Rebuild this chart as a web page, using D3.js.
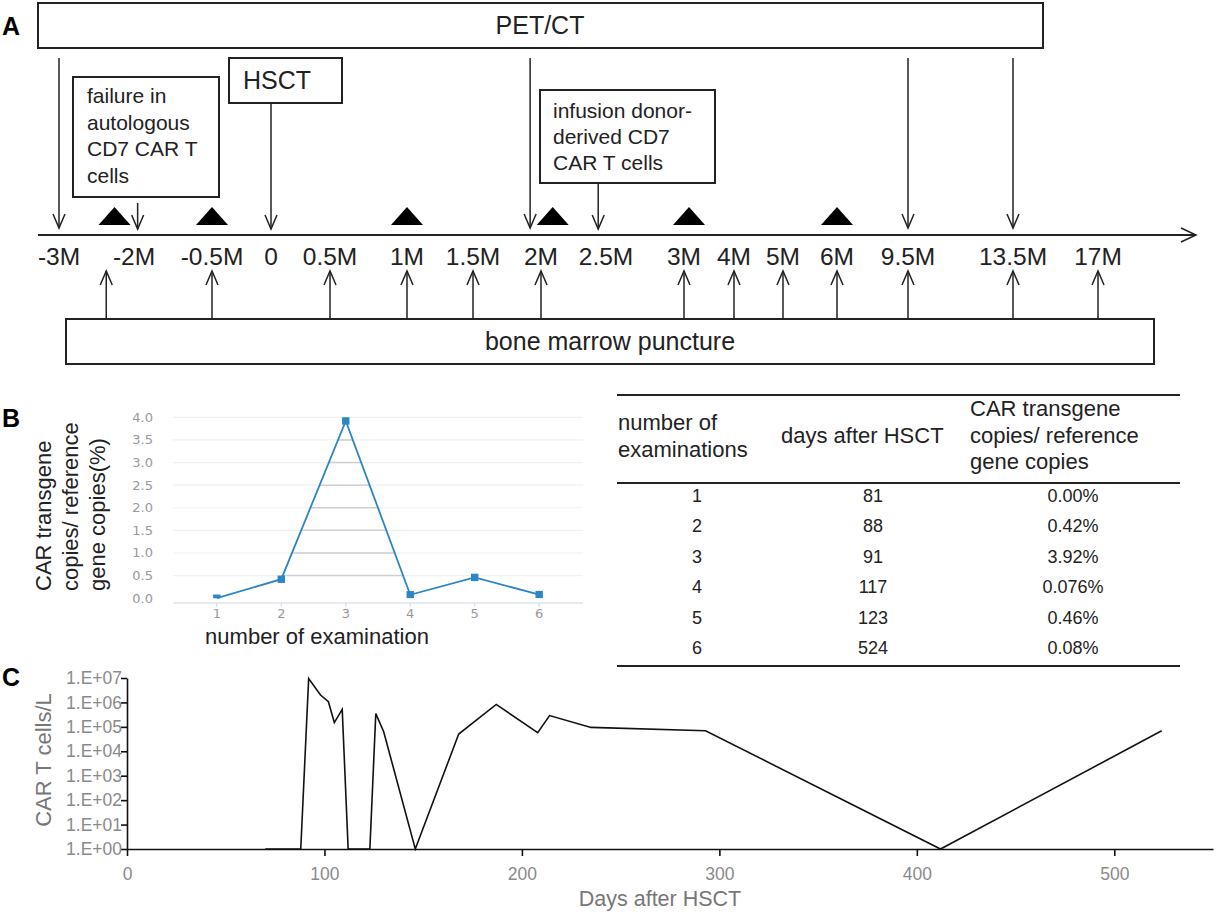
<!DOCTYPE html>
<html>
<head>
<meta charset="utf-8">
<script src="https://cdn.jsdelivr.net/npm/d3@7"></script>
<style>
  body { margin: 0; background: #fff; }
  svg { display: block; }
  text { font-family: "Liberation Sans", Arial, sans-serif; fill: #222; }
</style>
</head>
<body>
<script>
// ---------- data ----------
// panel A: timeline (months relative to HSCT)
let timeLabels = ["-3M", "-2M", "-0.5M", "0", "0.5M", "1M", "1.5M", "2M", "2.5M", "3M", "4M", "5M", "6M", "9.5M", "13.5M", "17M"];
let timeMonths = [-3, -2, -0.5, 0, 0.5, 1, 1.5, 2, 2.5, 3, 4, 5, 6, 9.5, 13.5, 17];
let petctMonths = [-3, 1.92, 9.5, 13.5];
let marrowMonths = [-2.37, -0.5, 0.5, 1, 1.5, 2, 3, 4, 5, 6, 9.5, 13.5, 17];
let triangleMonths = [-2.26, -0.5, 1, 2.09, 3.1, 6];
let failureMonth = -1.93, hsctMonth = 0, infusionMonth = 2.44;

// panel B: CAR copies
let exams = [1, 2, 3, 4, 5, 6];
let examDays = [81, 88, 91, 117, 123, 524];
let copies = [0.00, 0.42, 3.92, 0.076, 0.46, 0.08];
let copyLabels = ["0.00%", "0.42%", "3.92%", "0.076%", "0.46%", "0.08%"];
let copyTicks = [0, 0.5, 1, 1.5, 2, 2.5, 3, 3.5, 4];

// panel C: CAR T cells per litre
let cDays = [70, 88, 92, 98, 102, 105, 109, 112, 123, 126, 130, 146, 168, 187, 208, 214, 235, 293, 412, 524];
let cCells = [1, 1, 9.5e6, 2e6, 1.07e6, 1.5e5, 5.2e5, 1, 1, 3.5e5, 6.3e4, 1, 5.1e4, 8.3e5, 5.8e4, 2.9e5, 9.5e4, 6.9e4, 1, 6.9e4];
let cTicksY = [1, 10, 1e2, 1e3, 1e4, 1e5, 1e6, 1e7];
let cTicksX = [0, 100, 200, 300, 400, 500];

// ---------- setup ----------
let width = 1216, height = 913;
let svg = d3.select("body").append("svg")
  .attr("width", width)
  .attr("height", height);

let ink = "#222";

function panelLetter(t, x, y) {
  svg.append("text").attr("x", x).attr("y", y)
    .style("font-size", "25px").style("font-weight", "bold").style("fill", "#000")
    .text(t);
}
panelLetter("A", 2, 35);
panelLetter("B", 2, 427);
panelLetter("C", 2, 686);

// ---------- panel A ----------
let gA = svg.append("g");
// labels on the timeline are not evenly spaced, so use a piecewise scale
let tickX = [59, 134, 212, 271, 330, 407, 473, 541, 606, 684, 734, 783, 837, 908, 1013, 1098];
let xT = d3.scaleLinear().domain(timeMonths).range(tickX);
let axisY = 235;

function box(g, x0, y0, x1, y1) {
  g.append("rect").attr("x", x0).attr("y", y0)
    .attr("width", x1 - x0).attr("height", y1 - y0)
    .attr("fill", "#fff").attr("stroke", ink).attr("stroke-width", 2);
}
function boxText(g, lines, x, y0, dy, size, anchor) {
  lines.forEach(function(l, i) {
    g.append("text").attr("x", x).attr("y", y0 + i * dy)
      .attr("text-anchor", anchor || "start")
      .style("font-size", size + "px")
      .text(l);
  });
}
function arrow(g, x, yFrom, yTo) {
  let dir = yTo > yFrom ? 1 : -1;
  g.append("line").attr("x1", x).attr("x2", x).attr("y1", yFrom).attr("y2", yTo)
    .attr("stroke", ink).attr("stroke-width", 1.5);
  g.append("path")
    .attr("d", "M" + (x - 6) + "," + (yTo - dir * 14) + "L" + x + "," + yTo + "L" + (x + 6) + "," + (yTo - dir * 14))
    .attr("fill", "none").attr("stroke", ink).attr("stroke-width", 1.5);
}

// PET/CT
box(gA, 38, 3, 1043, 48);
boxText(gA, ["PET/CT"], 540, 34, 0, 25, "middle");
petctMonths.forEach(function(m) { arrow(gA, xT(m), 58, 228); });

// failure box
box(gA, 73, 77, 219, 197);
boxText(gA, ["failure in", "autologous", "CD7 CAR T", "cells"], 87, 103, 26.7, 21);
arrow(gA, xT(failureMonth), 203, 229);

// HSCT
box(gA, 229, 58, 342, 103);
boxText(gA, ["HSCT"], 243, 89, 0, 25);
arrow(gA, xT(hsctMonth), 103, 229);

// infusion
box(gA, 540, 90, 715, 183);
boxText(gA, ["infusion donor-", "derived CD7", "CAR T cells"], 553, 118, 26, 21);
arrow(gA, xT(infusionMonth), 183, 229);

// triangles
gA.selectAll(".tri").data(triangleMonths).enter().append("path")
  .attr("class", "tri")
  .attr("d", function(m) {
    let x = xT(m);
    return "M" + (x - 16) + ",225L" + x + ",207L" + (x + 16) + ",225Z";
  })
  .attr("fill", "#000");

// timeline axis with arrow
gA.append("line").attr("x1", 38).attr("x2", 1196).attr("y1", axisY).attr("y2", axisY)
  .attr("stroke", ink).attr("stroke-width", 2);
gA.append("path").attr("d", "M1181," + (axisY - 7) + "L1196," + axisY + "L1181," + (axisY + 7))
  .attr("fill", "none").attr("stroke", ink).attr("stroke-width", 1.5);

gA.selectAll(".tl").data(timeLabels).enter().append("text")
  .attr("class", "tl")
  .attr("x", function(d, i) { return xT(timeMonths[i]); })
  .attr("y", 265)
  .attr("text-anchor", "middle")
  .style("font-size", "24.5px")
  .text(function(d) { return d; });

// bone marrow puncture
marrowMonths.forEach(function(m) { arrow(gA, xT(m), 319, 271); });
box(gA, 66, 319, 1154, 364);
boxText(gA, ["bone marrow puncture"], 610, 350, 0, 25, "middle");

// ---------- panel B: chart ----------
let gB = svg.append("g");
let xB = d3.scalePoint().domain(exams).range([173, 583]).padding(0.68);
let yB = d3.scaleLinear().domain([0, 4]).range([598.2, 417.3]);
let blue = "#2b86c5";

// light gridlines
gB.selectAll(".grid").data(copyTicks.slice(1)).enter().append("line")
  .attr("x1", 173).attr("x2", 583)
  .attr("y1", function(d) { return yB(d); }).attr("y2", function(d) { return yB(d); })
  .attr("stroke", "#f0f0f0").attr("stroke-width", 1.2);

// darker grid segments below the curve
let area = d3.area()
  .x(function(d, i) { return xB(exams[i]); })
  .y0(yB(0)).y1(function(d) { return yB(d); });
gB.append("clipPath").attr("id", "underCurve")
  .append("path").attr("d", area(copies));
gB.append("g").attr("clip-path", "url(#underCurve)")
  .selectAll("line").data(copyTicks.slice(1)).enter().append("line")
  .attr("x1", 173).attr("x2", 583)
  .attr("y1", function(d) { return yB(d); }).attr("y2", function(d) { return yB(d); })
  .attr("stroke", "#cfcfcf").attr("stroke-width", 1.5);

// x axis line and ticks
gB.append("line").attr("x1", 173).attr("x2", 583).attr("y1", 603).attr("y2", 603)
  .attr("stroke", "#cdd8e6").attr("stroke-width", 1.2);
gB.selectAll(".xtk").data(exams).enter().append("line")
  .attr("x1", function(d) { return xB(d); }).attr("x2", function(d) { return xB(d); })
  .attr("y1", 603).attr("y2", 607)
  .attr("stroke", "#cdd8e6");
gB.selectAll(".xl").data(exams).enter().append("text")
  .attr("x", function(d) { return xB(d); })
  .attr("y", 618)
  .attr("text-anchor", "middle")
  .style("font-family", "DejaVu Sans, sans-serif")
  .style("font-size", "13px").style("fill", "#999")
  .text(function(d) { return d; });

// y labels
gB.selectAll(".yl").data(copyTicks).enter().append("text")
  .attr("x", 153)
  .attr("y", function(d) { return yB(d) + 4.5; })
  .attr("text-anchor", "end")
  .style("font-family", "DejaVu Sans, sans-serif")
  .style("font-size", "13px").style("fill", "#999")
  .text(function(d) { return d3.format(".1f")(d); });

// line and markers
let lineB = d3.line()
  .x(function(d, i) { return xB(exams[i]); })
  .y(function(d) { return yB(d); });
gB.append("path").attr("d", lineB(copies))
  .attr("fill", "none").attr("stroke", blue).attr("stroke-width", 1.8);
gB.append("clipPath").attr("id", "plotB")
  .append("rect").attr("x", 160).attr("y", 400).attr("width", 440).attr("height", yB(0) - 400);
gB.append("g").attr("clip-path", "url(#plotB)")
  .selectAll("rect").data(copies).enter().append("rect")
  .attr("x", function(d, i) { return xB(exams[i]) - 3.7; })
  .attr("y", function(d) { return yB(d) - 3.7; })
  .attr("width", 7.4).attr("height", 7.4)
  .attr("fill", blue);

// titles
let yTitle = ["CAR transgene", "copies/ reference", "gene copies(%)"];
yTitle.forEach(function(t, i) {
  gB.append("text")
    .attr("transform", "translate(" + (51 + i * 27) + ",591) rotate(-90)")
    .style("font-size", "22px")
    .text(t);
});
gB.append("text").attr("x", 317).attr("y", 644).attr("text-anchor", "middle")
  .style("font-size", "22px").text("number of examination");

// ---------- panel B: table ----------
let gT = svg.append("g");
[395, 483, 666].forEach(function(y) {
  gT.append("line").attr("x1", 617).attr("x2", 1180).attr("y1", y).attr("y2", y)
    .attr("stroke", ink).attr("stroke-width", 2);
});
boxText(gT, ["number of", "examinations"], 618, 430, 26.7, 22);
boxText(gT, ["days after HSCT"], 781, 443, 0, 22);
boxText(gT, ["CAR transgene", "copies/ reference", "gene copies"], 970, 416, 26.7, 22);

let colX = [697, 873, 1073];
exams.forEach(function(e, i) {
  let y = 502 + i * 30.4;
  [e, examDays[i], copyLabels[i]].forEach(function(v, j) {
    gT.append("text").attr("x", colX[j]).attr("y", y)
      .attr("text-anchor", "middle")
      .style("font-size", "18px")
      .text(v);
  });
});

// ---------- panel C ----------
let gC = svg.append("g");
let xC = d3.scaleLinear().domain([0, 550]).range([127, 1213]);
let yC = d3.scaleLog().domain([1, 1e7]).range([849, 678]);

let xAxisC = d3.axisBottom(xC).tickValues(cTicksX).tickSize(7).tickSizeOuter(0);
let yAxisC = d3.axisLeft(yC).tickValues(cTicksY).tickSize(6).tickSizeOuter(0)
  .tickFormat(function(d) { return "1.E+" + String(Math.round(Math.log10(d))).padStart(2, "0"); });

let gx = gC.append("g").attr("transform", "translate(0,849)").call(xAxisC);
let gy = gC.append("g").attr("transform", "translate(127,0)").call(yAxisC);
[gx, gy].forEach(function(g) {
  g.select(".domain").attr("stroke", "#111").attr("stroke-width", 1.6);
  g.selectAll(".tick line").attr("stroke", "#111").attr("stroke-width", 1.6);
  g.selectAll(".tick text")
    .style("font-family", "\"Liberation Sans\", Arial, sans-serif")
    .style("fill", "#8a8a8a");
});
gx.selectAll(".tick text").style("font-size", "17.5px").attr("dy", "1.2em");
gy.selectAll(".tick text").style("font-size", "17.5px").attr("x", -5);

let lineC = d3.line()
  .x(function(d, i) { return xC(cDays[i]); })
  .y(function(d) { return yC(d); });
gC.append("path").attr("d", lineC(cCells))
  .attr("fill", "none").attr("stroke", "#111").attr("stroke-width", 1.6)
  .attr("stroke-linejoin", "miter");

gC.append("text")
  .attr("transform", "translate(51,760) rotate(-90)")
  .attr("text-anchor", "middle")
  .style("font-size", "22px").style("fill", "#777")
  .text("CAR T cells/L");
gC.append("text").attr("x", 660).attr("y", 906).attr("text-anchor", "middle")
  .style("font-size", "21.5px").style("fill", "#777")
  .text("Days after HSCT");
</script>
</body>
</html>
